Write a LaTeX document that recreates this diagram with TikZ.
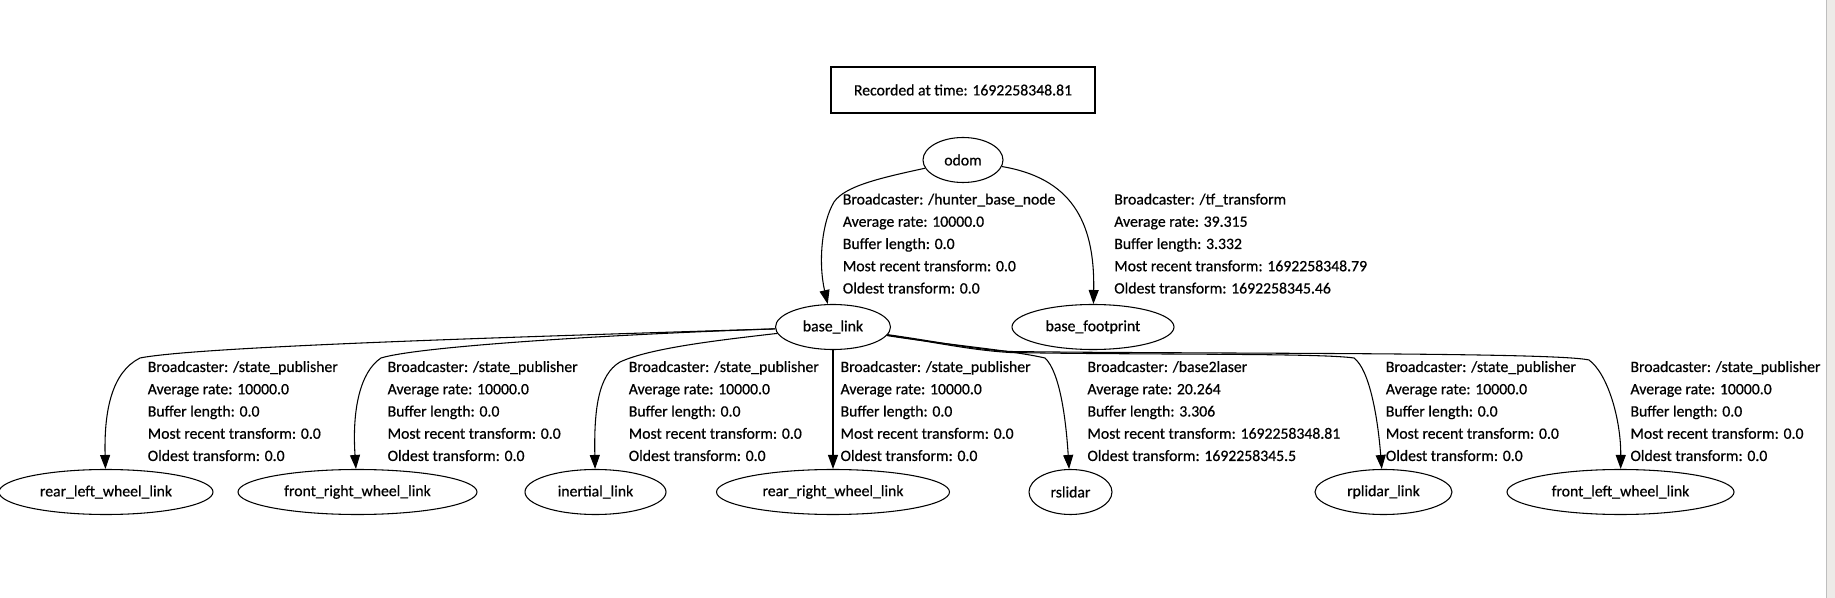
\documentclass[tikz,border=0pt]{standalone}
\usepackage{fontspec}
\setmainfont{Carlito}[FakeBold=0.6]
\usetikzlibrary{arrows.meta,shapes.geometric}
\definecolor{stripfill}{HTML}{EDEBE8}
\definecolor{stripline}{HTML}{BEBEBE}
\newcommand{\tflabel}[8]{%
  \node[lbl] (#1a) at (#2,#3) {#4};
  \node[lbl] (#1b) at (#2,#3+22.24) {#5};
  \node[lbl] (#1c) at (#2,#3+44.48) {#6};
  \node[lbl] (#1d) at (#2,#3+66.72) {#7};
  \node[lbl] (#1e) at (#2,#3+88.96) {#8};}
\begin{document}
\begin{tikzpicture}[x=0.75pt,y=-0.75pt,
  every node/.style={font=\fontsize{11.8}{14}\selectfont},
  frame/.style={ellipse,draw,line width=0.8pt,inner sep=0,minimum height=33.75pt},
  lbl/.style={anchor=base west,inner sep=0},
  tfedge/.style={draw,line width=0.8pt,-{Triangle[length=10.5pt,width=7.5pt]}}]
\useasboundingbox (0,0) rectangle (1835,598);
\fill[white] (0,0) rectangle (1835,598);
\fill[stripfill] (1826,0) rectangle (1835,598);
\draw[stripline,line width=0.75pt] (1826.5,0) -- (1826.5,598);

\node[draw,line width=0.8pt,minimum width=198pt,minimum height=34.5pt,inner sep=0] (rec) at (963,90) {Recorded at time: 1692258348.81};

\node[frame,minimum width=60pt] (odom) at (963,160) {odom};
\node[frame,minimum width=86.25pt] (baselink) at (833,327) {base\_link};
\node[frame,minimum width=121.5pt] (footprint) at (1093,327) {base\_footprint};

\node[frame,minimum width=160.5pt] (rlw) at (106,492) {rear\_left\_wheel\_link};
\node[frame,minimum width=179.25pt] (frw) at (357.5,492) {front\_right\_wheel\_link};
\node[frame,minimum width=105.75pt] (inertial) at (595.5,492) {inertial\_link};
\node[frame,minimum width=174.75pt] (rrw) at (833,492) {rear\_right\_wheel\_link};
\node[frame,minimum width=62.25pt] (rslidar) at (1070.5,492) {rslidar};
\node[frame,minimum width=102.75pt] (rplidar) at (1383.5,492) {rplidar\_link};
\node[frame,minimum width=170.25pt] (flw) at (1620.5,492) {front\_left\_wheel\_link};

\draw[tfedge] (odom) .. controls (880,178) and (845,186) .. (834,202) .. controls (822,222) and (818,262) .. (baselink);
\draw[tfedge] (odom) .. controls (1070,178) and (1095,220) .. (footprint);
\draw[tfedge] (baselink) .. controls (550,336) and (200,346) .. (140,358) .. controls (112,372) and (104,410) .. (rlw);
\draw[tfedge] (baselink) .. controls (620,334) and (420,346) .. (381,358) .. controls (360,372) and (352,410) .. (frw);
\draw[tfedge] (baselink) .. controls (720,340) and (650,348) .. (620,362) .. controls (598,375) and (594,410) .. (inertial);
\draw[tfedge] (baselink) -- (rrw);
\draw[tfedge] (baselink) .. controls (940,344) and (1010,350) .. (1045,358) .. controls (1060,372) and (1066,420) .. (rslidar);
\draw[tfedge] (baselink) .. controls (940,343) and (970,350) .. (1010,352.5) .. controls (1150,355) and (1320,353) .. (1354,358) .. controls (1370,370) and (1378,420) .. (rplidar);
\draw[tfedge] (baselink) .. controls (940,342) and (970,349) .. (1010,351.5) .. controls (1200,354) and (1555,352) .. (1589,360) .. controls (1608,374) and (1621,420) .. (flw);

\tflabel{lA}{842.6}{204.5}{Broadcaster: /hunter\_base\_node}{Average rate: 10000.0}{Buffer length: 0.0}{Most recent transform: 0.0}{Oldest transform: 0.0}
\tflabel{lB}{1114}{204.5}{Broadcaster: /tf\_transform}{Average rate: 39.315}{Buffer length: 3.332}{Most recent transform: 1692258348.79}{Oldest transform: 1692258345.46}
\tflabel{lC}{147.5}{372}{Broadcaster: /state\_publisher}{Average rate: 10000.0}{Buffer length: 0.0}{Most recent transform: 0.0}{Oldest transform: 0.0}
\tflabel{lD}{387.4}{372}{Broadcaster: /state\_publisher}{Average rate: 10000.0}{Buffer length: 0.0}{Most recent transform: 0.0}{Oldest transform: 0.0}
\tflabel{lE}{628.5}{372}{Broadcaster: /state\_publisher}{Average rate: 10000.0}{Buffer length: 0.0}{Most recent transform: 0.0}{Oldest transform: 0.0}
\tflabel{lF}{840.3}{372}{Broadcaster: /state\_publisher}{Average rate: 10000.0}{Buffer length: 0.0}{Most recent transform: 0.0}{Oldest transform: 0.0}
\tflabel{lG}{1087.2}{372}{Broadcaster: /base2laser}{Average rate: 20.264}{Buffer length: 3.306}{Most recent transform: 1692258348.81}{Oldest transform: 1692258345.5}
\tflabel{lH}{1385.6}{372}{Broadcaster: /state\_publisher}{Average rate: 10000.0}{Buffer length: 0.0}{Most recent transform: 0.0}{Oldest transform: 0.0}
\tflabel{lI}{1630.2}{372}{Broadcaster: /state\_publisher}{Average rate: 10000.0}{Buffer length: 0.0}{Most recent transform: 0.0}{Oldest transform: 0.0}
\end{tikzpicture}
\end{document}
